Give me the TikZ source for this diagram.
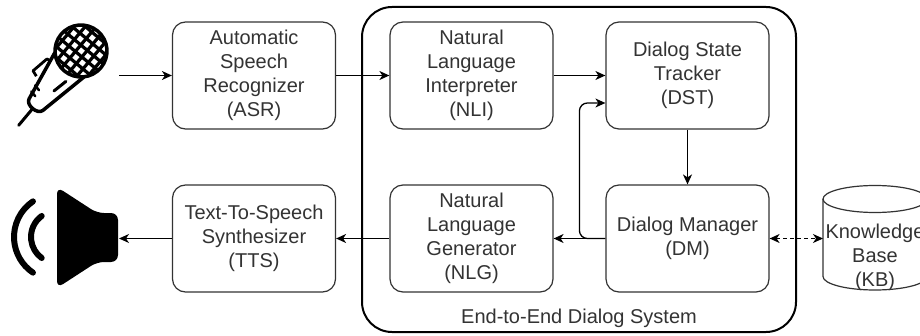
\documentclass[tikz,border=0pt]{standalone}
\usepackage{fontspec}
\setmainfont{Liberation Sans}
\usetikzlibrary{arrows.meta,calc}
\definecolor{tg}{HTML}{333333}
\tikzset{
  box/.style={draw=tg, line width=1.2pt, rounded corners=13pt, minimum width=163pt,
    minimum height=107pt, align=center, font=\fontsize{20}{24}\selectfont, text=tg, inner sep=0pt},
  tip/.tip={Stealth[length=10pt,width=9pt,inset=3pt]},
  arr/.style={line width=1.3pt, -tip},
  icon/.style={line width=3.5pt, line cap=round, line join=round},
}
\begin{document}
\begin{tikzpicture}[x=1pt,y=1pt]
\path[use as bounding box] (0,0) rectangle (920,335);
\clip (0,0) rectangle (920,335);
\fill[white] (0,0) rectangle (920,335);

% outer system box
\node[draw=black, line width=2pt, rounded corners=30pt, minimum width=434pt, minimum height=325pt, inner sep=0pt] (sys) at (579,165.5) {};
\node[anchor=base, font=\fontsize{20}{24}\selectfont, text=tg, inner sep=0pt] (syslabel) at (579,12) {End-to-End Dialog System};

% boxes
\node[box] (ASR) at (254,259.5) {Automatic\\Speech\\Recognizer\\(ASR)};
\node[box] (NLI) at (471.5,259.5) {Natural\\Language\\Interpreter\\(NLI)};
\node[box] (DST) at (687.5,259.5) {Dialog State\\Tracker\\(DST)};
\node[box] (TTS) at (254,96.5) {Text-To-Speech\\Synthesizer\\(TTS)};
\node[box] (NLG) at (471.5,96.5) {Natural\\Language\\Generator\\(NLG)};
\node[box] (DM) at (687.5,96.5) {Dialog Manager\\(DM)};

% knowledge base cylinder
\draw[draw=tg, line width=1.2pt, fill=white] (823,136) -- (823,58.5) arc (180:360:52 and 13.5) -- (927,136);
\draw[draw=tg, line width=1.2pt] (875,136) ellipse (52 and 13.5);
\node[align=center, font=\fontsize{20}{24}\selectfont, text=tg, inner sep=0pt] (KB) at (875,78) {Knowledge\\Base\\(KB)};
\coordinate (kbw) at (823,96.5);

% microphone icon
\begin{scope}[shift={(81,284)}, rotate=-40]
  \begin{scope}
    \clip (0,0) circle (25);
    \foreach \t in {-21,-12.5,-4,4.5,13,21.5} {
      \draw[line width=3.2pt] (\t,-30) -- (\t,30);
      \draw[line width=3.2pt] (-30,\t) -- (30,\t);
    }
  \end{scope}
  \draw[icon] (0,0) circle (26);
  \draw[icon] (-19,-18) -- (-9,-70) to[out=-80,in=-100] (9,-70) -- (19,-18);
  \draw[line width=2.8pt, line join=round] (-16,-27) -- (-21,-28) -- (-24,-46) -- (-18,-48);
  \draw[icon, line width=3pt] (8,-33) -- (5,-48);
  \draw[line width=2.5pt, line cap=round] (-13,-56) -- (-7,-57);
  \draw[line width=2.5pt, line cap=round] (-12,-63) -- (-6,-64);
  \draw[icon, line width=3pt] (0,-76) -- (0,-97);
\end{scope}
\coordinate (micR) at (119,259.5);

% speaker icon
\fill[black, rounded corners=7pt] (57,98) -- (57,148) -- (97,122) -- (118,122) -- (118,73) -- (97,73) -- (57,47) -- cycle;
\draw[line width=6pt, line cap=round] ($(57,98)+(124:43)$) arc (124:236:43);
\draw[line width=6pt, line cap=round] ($(57,98)+(126:26)$) arc (126:234:26);
\coordinate (spkR) at (119,96.5);

% connectors
\draw[arr] (micR) -- (ASR.west);
\draw[arr] (ASR.east) -- (NLI.west);
\draw[arr] (NLI.east) -- (DST.west);
\draw[arr] (DST.south) -- (DM.north);
\draw[arr] (DM.west) -- (NLG.east);
\draw[arr, rounded corners=8pt] (DM.west) -- ++(-26,0) |- ([yshift=-27.5pt]DST.west);
\draw[arr] (NLG.west) -- (TTS.east);
\draw[arr] (TTS.west) -- (spkR);
\draw[line width=1.3pt, tip-tip, dash pattern=on 4pt off 3pt] (DM.east) -- (kbw);
\end{tikzpicture}
\end{document}
